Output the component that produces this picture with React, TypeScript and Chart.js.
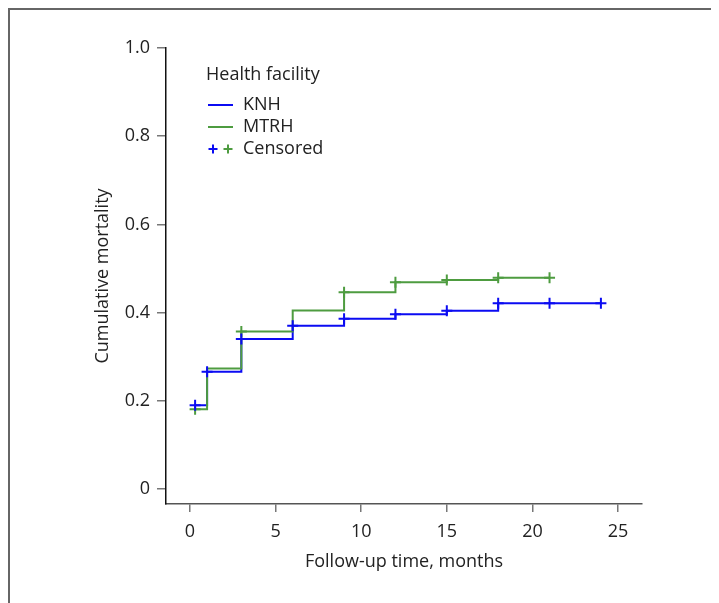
import React, { useEffect, useRef } from 'react';
import { Chart, registerables } from 'chart.js';

Chart.register(...registerables);

const FONT = '"Open Sans", "Noto Sans", sans-serif';

// KNH cumulative mortality (step changes)
const knhTimes = [0.3, 1, 3, 6, 9, 12, 15, 18, 24];
const knhValues = [0.19, 0.266, 0.34, 0.37, 0.386, 0.396, 0.404, 0.421, 0.421];
const knhCensorTimes = [0.3, 1, 3, 6, 9, 12, 15, 18, 21, 24];
const knhCensorValues = [0.19, 0.266, 0.34, 0.37, 0.386, 0.396, 0.404, 0.421, 0.421, 0.421];

// MTRH cumulative mortality (step changes)
const mtrhTimes = [0.3, 1, 3, 6, 9, 12, 15, 18, 21];
const mtrhValues = [0.181, 0.273, 0.357, 0.405, 0.446, 0.469, 0.474, 0.479, 0.479];
const mtrhCensorTimes = [0.3, 3, 9, 12, 15, 18, 21];
const mtrhCensorValues = [0.181, 0.357, 0.446, 0.469, 0.474, 0.479, 0.479];

const xTickValues = [0, 5, 10, 15, 20, 25];
const yTickValues = [0, 0.2, 0.4, 0.6, 0.8, 1.0];
const yTickLabels = ['0', '0.2', '0.4', '0.6', '0.8', '1.0'];

const seriesNames = ['KNH', 'MTRH'];
const legendTitle = 'Health facility';
const censoredLabel = 'Censored';
const xTitle = 'Follow-up time, months';
const yTitle = 'Cumulative mortality';

const BLUE = '#0b0bf2';
const GREEN = '#4e9c40';
const TEXT = '#222222';

const toXY = (ts: number[], vs: number[]) => ts.map((t, i) => ({ x: t, y: vs[i] }));

export default function App() {
  const ref = useRef<HTMLCanvasElement>(null);

  useEffect(() => {
    const legendPlugin = {
      id: 'kmLegend',
      afterDraw(chart: any) {
        const ctx = chart.ctx as CanvasRenderingContext2D;
        const { left, top } = chart.chartArea;
        const lx = left + 40;
        ctx.save();
        ctx.font = `18px ${FONT}`;
        ctx.fillStyle = TEXT;
        ctx.textBaseline = 'middle';
        ctx.textAlign = 'left';
        ctx.fillText(legendTitle, lx, top + 27);
        const rows = [top + 57, top + 79, top + 101];
        const colors = [BLUE, GREEN];
        ctx.lineWidth = 2;
        for (let i = 0; i < 2; i++) {
          ctx.strokeStyle = colors[i];
          ctx.beginPath();
          ctx.moveTo(lx + 2, rows[i]);
          ctx.lineTo(lx + 27, rows[i]);
          ctx.stroke();
          ctx.fillText(seriesNames[i], lx + 37, rows[i]);
        }
        const cxs = [lx + 7, lx + 22];
        for (let i = 0; i < 2; i++) {
          ctx.strokeStyle = colors[i];
          ctx.beginPath();
          ctx.moveTo(cxs[i] - 4.5, rows[2]);
          ctx.lineTo(cxs[i] + 4.5, rows[2]);
          ctx.moveTo(cxs[i], rows[2] - 4.5);
          ctx.lineTo(cxs[i], rows[2] + 4.5);
          ctx.stroke();
        }
        ctx.fillText(censoredLabel, lx + 37, rows[2]);
        ctx.restore();
      },
    };

    const font = { family: FONT, size: 18 };

    const chart = new Chart(ref.current as HTMLCanvasElement, {
      type: 'line',
      data: {
        datasets: [
          {
            label: seriesNames[1],
            data: toXY(mtrhTimes, mtrhValues),
            stepped: 'before',
            borderColor: GREEN,
            borderWidth: 2,
            pointRadius: 0,
            fill: false,
            order: 1,
          },
          {
            label: seriesNames[0],
            data: toXY(knhTimes, knhValues),
            stepped: 'before',
            borderColor: BLUE,
            borderWidth: 2,
            pointRadius: 0,
            fill: false,
            order: 2,
          },
          {
            label: seriesNames[1] + ' censored',
            data: toXY(mtrhCensorTimes, mtrhCensorValues),
            showLine: false,
            pointStyle: 'cross',
            pointRadius: 5.5,
            pointBorderWidth: 2,
            borderColor: GREEN,
            pointBorderColor: GREEN,
            backgroundColor: GREEN,
            order: 0,
          },
          {
            label: seriesNames[0] + ' censored',
            data: toXY(knhCensorTimes, knhCensorValues),
            showLine: false,
            pointStyle: 'cross',
            pointRadius: 5.5,
            pointBorderWidth: 2,
            borderColor: BLUE,
            pointBorderColor: BLUE,
            backgroundColor: BLUE,
            order: -1,
          },
        ],
      } as any,
      options: {
        animation: false,
        responsive: false,
        devicePixelRatio: 1,
        layout: { padding: { left: 78.2, top: 38, right: 77, bottom: 26.2 } },
        plugins: {
          legend: { display: false },
          tooltip: { enabled: false },
        },
        scales: {
          x: {
            type: 'linear',
            min: -1.4,
            max: 26.4,
            afterBuildTicks: (s: any) => {
              s.ticks = xTickValues.map((v) => ({ value: v }));
            },
            afterFit: (s: any) => {
              s.height = 72.8;
            },
            ticks: {
              autoSkip: false,
              maxRotation: 0,
              padding: 9,
              color: TEXT,
              font,
              callback: (v: any) => String(v),
            },
            grid: { drawOnChartArea: false, drawTicks: true, tickLength: 8, color: '#777', lineWidth: 1.5 },
            border: { display: true, color: '#555', width: 1.5 },
            title: { display: true, text: xTitle, color: TEXT, font, padding: { top: 4, bottom: 4 } },
          },
          y: {
            type: 'linear',
            min: -0.034,
            max: 1.0,
            afterBuildTicks: (s: any) => {
              s.ticks = yTickValues.map((v) => ({ value: v }));
            },
            afterFit: (s: any) => {
              s.width = 77.8;
            },
            ticks: {
              autoSkip: false,
              padding: 7,
              color: TEXT,
              font,
              callback: (v: any) => {
                const i = yTickValues.findIndex((t) => Math.abs(t - v) < 1e-9);
                return i >= 0 ? yTickLabels[i] : '';
              },
            },
            grid: { drawOnChartArea: false, drawTicks: true, tickLength: 9, color: '#777', lineWidth: 1.5 },
            border: { display: true, color: '#111', width: 1.5 },
            title: { display: true, text: yTitle, color: TEXT, font, padding: { top: 4, bottom: 4 } },
          },
        },
      } as any,
      plugins: [legendPlugin],
    });
    return () => chart.destroy();
  }, []);

  return (
    <div
      style={{
        borderTop: '2px solid #666',
        borderLeft: '2px solid #666',
        width: 711,
        height: 595,
        boxSizing: 'border-box',
      }}
    >
      <canvas ref={ref} width={709} height={593} style={{ display: 'block', width: 709, height: 593 }} />
    </div>
  );
}
